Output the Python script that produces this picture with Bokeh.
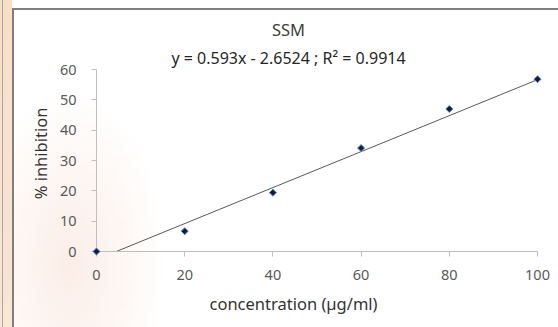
import math
from bokeh.plotting import figure
from bokeh.models import Range1d, FixedTicker, Label
from bokeh.embed import file_html
from bokeh.resources import INLINE

concentration = [0, 20, 40, 60, 80, 100]
inhibition = [0, 6.7, 19.4, 34.1, 47.0, 56.8]
slope = 0.593
intercept = -2.6524
x_ticks = [0, 20, 40, 60, 80, 100]
y_ticks = [0, 10, 20, 30, 40, 50, 60]
title_text = "SSM"
eq_text = "y = 0.593x - 2.6524 ; R\u00b2 = 0.9914"
x_title = "concentration (\u00b5g/ml)"
y_title = "% inhibition"

FONT = "Noto Sans"
W, H = 558, 327
# axis geometry (pixels): x 0..100 -> 96..537, y 0..60 -> 251..69
PX0, PX1, PY0, PY1 = 96, 537, 251, 69
sx = 100 / (PX1 - PX0)
sy = 60 / (PY0 - PY1)

def dx(px):
    return (px - PX0) * sx

def dy(py):
    return (PY0 - py) * sy

# the frame covers the whole canvas; axes are placed at x=0 / y=0
p = figure(width=W, height=H, output_backend="svg", toolbar_location=None,
           x_range=Range1d(dx(0), dx(W)), y_range=Range1d(dy(H), dy(0)),
           min_border=0)
p.outline_line_color = None
p.grid.grid_line_color = None
p.background_fill_color = None
p.border_fill_color = None
p.styles = {
    "background": (
        "linear-gradient(#7f7f7f,#7f7f7f) 12px 8px / 2px 100% no-repeat,"
        "linear-gradient(#7f7f7f,#7f7f7f) 12px 8px / 100% 2px no-repeat,"
        "linear-gradient(#a6a6a6,#a6a6a6) 2px 0 / 1px 100% no-repeat,"
        "linear-gradient(rgba(242,200,160,0.6), rgba(242,206,170,0.45)) 0 0 / 12px 100% no-repeat,"
        "radial-gradient(ellipse 120px 220px at 70px 265px, rgba(240,186,160,0.26), rgba(255,255,255,0) 80%),"
        "white"
    )
}

for ax in (p.xaxis, p.yaxis):
    ax.fixed_location = 0
    ax.axis_line_color = "#bfbfbf"
    ax.major_tick_line_color = "#bfbfbf"
    ax.minor_tick_line_color = None
    ax.major_tick_in = 0
    ax.major_tick_out = 5
    ax.major_label_text_font = FONT
    ax.major_label_text_font_size = "14.5px"
    ax.major_label_text_color = "#595959"
p.xaxis.bounds = (0, 100)
p.yaxis.bounds = (0, 60)
p.xaxis.ticker = FixedTicker(ticks=x_ticks)
p.yaxis.ticker = FixedTicker(ticks=y_ticks)
p.xaxis.major_label_standoff = 13
p.yaxis.major_label_standoff = 15

x0 = -intercept / slope
p.line([x0, 100], [slope * x0 + intercept, slope * 100 + intercept], line_color="#595959", line_width=1)
p.scatter(concentration, inhibition, marker="square", angle=math.pi / 4, size=5,
          fill_color="#0f1f3a", line_color="#5b8bd0", line_width=1, level="overlay")

def lab(text, px, py, size, color, angle=0):
    p.add_layout(Label(x=dx(px), y=dy(py), text=text, angle=angle,
                       text_font=FONT, text_font_size=size, text_color=color,
                       text_align="center", text_baseline="middle"))

lab(title_text, 288, 29, "16.5px", "#404040")
lab(eq_text, 288, 57, "16px", "#262626")
lab(x_title, 293, 303, "16.5px", "#333333")
lab(y_title, 40, 153, "16.5px", "#333333", angle=math.pi / 2)

open("out.html", "w").write(file_html(p, INLINE))
